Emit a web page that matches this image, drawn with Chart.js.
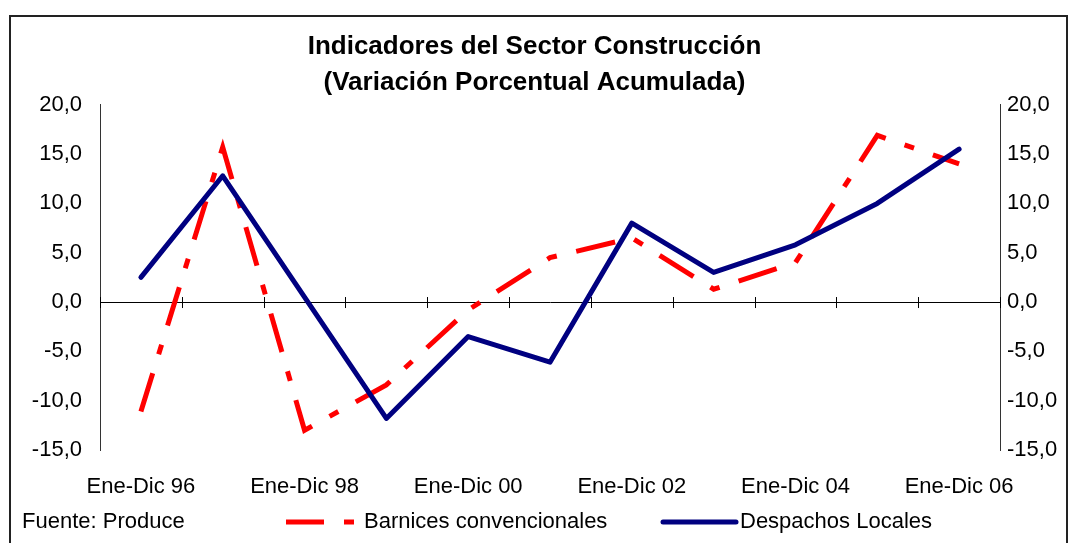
<!DOCTYPE html>
<html>
<head>
<meta charset="utf-8">
<script src="https://cdn.jsdelivr.net/npm/chart.js@4.4.1/dist/chart.umd.min.js"></script>
<style>
  html, body { margin: 0; padding: 0; background: #fff; }
</style>
</head>
<body>
<canvas id="chart" width="1069" height="543"></canvas>
<script>
const categories = ["Ene-Dic 96", "Ene-Dic 97", "Ene-Dic 98", "Ene-Dic 99", "Ene-Dic 00", "Ene-Dic 01",
                    "Ene-Dic 02", "Ene-Dic 03", "Ene-Dic 04", "Ene-Dic 05", "Ene-Dic 06"];
const barnices = [-11.1, 15.7, -13.0, -8.4, -0.8, 4.5, 6.5, 1.3, 4.0, 16.9, 14.0];
const despachos = [2.5, 12.8, 0.5, -11.8, -3.5, -6.1, 8.0, 3.0, 5.8, 10.0, 15.5];
const titleLines = ["Indicadores del Sector Construcción", "(Variación Porcentual Acumulada)"];
const yMin = -15, yMax = 20, yStep = 5;
const fuente = "Fuente: Produce";

const FONT = "'Liberation Sans', Arial, sans-serif";
const fmt = v => v.toFixed(1).replace(".", ",");

// marco, marcas del eje en 0 y leyenda
const extras = {
  id: "extras",
  beforeDatasetsDraw(chart) {
    const { ctx, chartArea } = chart;
    const x = chart.scales.x, y = chart.scales.y;
    const y0 = y.getPixelForValue(0);
    const w = (chartArea.right - chartArea.left) / categories.length;
    ctx.save();
    ctx.strokeStyle = "#000";
    ctx.lineWidth = 1;
    for (let i = 0; i <= categories.length; i++) {
      const px = Math.round(x.getPixelForValue(0) - w / 2 + i * w) + 0.5;
      ctx.beginPath();
      ctx.moveTo(px, y0 - 5);
      ctx.lineTo(px, y0 + 6);
      ctx.stroke();
    }
    ctx.restore();
  },
  afterDraw(chart) {
    const { ctx } = chart;
    ctx.save();
    // marco
    ctx.strokeStyle = "#222";
    ctx.lineWidth = 2;
    ctx.beginPath();
    ctx.moveTo(10, 560);
    ctx.lineTo(10, 16);
    ctx.lineTo(1067, 16);
    ctx.lineTo(1067, 560);
    ctx.stroke();

    // leyenda
    const ly = 522;
    ctx.font = "22px " + FONT;
    ctx.fillStyle = "#000";
    ctx.textBaseline = "middle";
    ctx.textAlign = "left";
    ctx.fillText(fuente, 22, ly);

    const ds = chart.data.datasets;
    ctx.lineWidth = 5;
    ctx.strokeStyle = ds[0].borderColor;
    ctx.setLineDash([38, 20, 10, 20]);
    ctx.beginPath();
    ctx.moveTo(286, ly);
    ctx.lineTo(355, ly);
    ctx.stroke();
    ctx.setLineDash([]);
    ctx.fillText(ds[0].label, 364, ly);

    ctx.strokeStyle = ds[1].borderColor;
    ctx.lineCap = "round";
    ctx.beginPath();
    ctx.moveTo(663, ly);
    ctx.lineTo(736, ly);
    ctx.stroke();
    ctx.fillText(ds[1].label, 740, ly);
    ctx.restore();
  }
};

new Chart(document.getElementById("chart").getContext("2d"), {
  type: "line",
  data: {
    labels: categories,
    datasets: [
      {
        label: "Barnices convencionales",
        data: barnices,
        borderColor: "#ff0000",
        borderWidth: 5,
        borderDash: [40, 20, 10, 20],
        borderJoinStyle: "miter",
        pointRadius: 0,
        tension: 0,
        order: 2
      },
      {
        label: "Despachos Locales",
        data: despachos,
        borderColor: "#000080",
        borderWidth: 5,
        borderCapStyle: "round",
        borderJoinStyle: "round",
        pointRadius: 0,
        tension: 0,
        order: 1
      }
    ]
  },
  options: {
    responsive: false,
    animation: false,
    devicePixelRatio: 1,
    layout: { padding: 0 },
    plugins: {
      legend: { display: false },
      tooltip: { enabled: false },
      title: {
        display: true,
        text: titleLines,
        color: "#000",
        font: { family: FONT, size: 26, weight: "bold", lineHeight: 1.38 },
        padding: { top: 29, bottom: 4 }
      }
    },
    scales: {
      x: {
        type: "category",
        offset: true,
        grid: { display: false, drawTicks: false },
        border: { display: false },
        ticks: {
          autoSkip: false,
          maxRotation: 0,
          padding: 24,
          color: "#000",
          font: { family: FONT, size: 22 },
          callback: function (val, i) { return i % 2 === 0 ? this.getLabelForValue(val) : ""; }
        },
        afterFit: s => { s.height = 93; }
      },
      y: {
        position: "left",
        min: yMin,
        max: yMax,
        grid: {
          drawTicks: false,
          lineWidth: 1,
          color: c => (c.tick && c.tick.value === 0 ? "#000" : "rgba(0,0,0,0)")
        },
        border: { display: true, color: "#333", width: 1 },
        ticks: {
          stepSize: yStep,
          padding: 18,
          color: "#000",
          font: { family: FONT, size: 22 },
          callback: v => fmt(v)
        },
        afterFit: s => { s.width = 100; }
      },
      y2: {
        position: "right",
        min: yMin,
        max: yMax,
        grid: { display: false, drawTicks: false },
        border: { display: true, color: "#333", width: 1 },
        ticks: {
          stepSize: yStep,
          padding: 7,
          color: "#000",
          font: { family: FONT, size: 22 },
          callback: v => fmt(v)
        },
        afterFit: s => { s.width = 69; }
      }
    }
  },
  plugins: [extras]
});
</script>
</body>
</html>
